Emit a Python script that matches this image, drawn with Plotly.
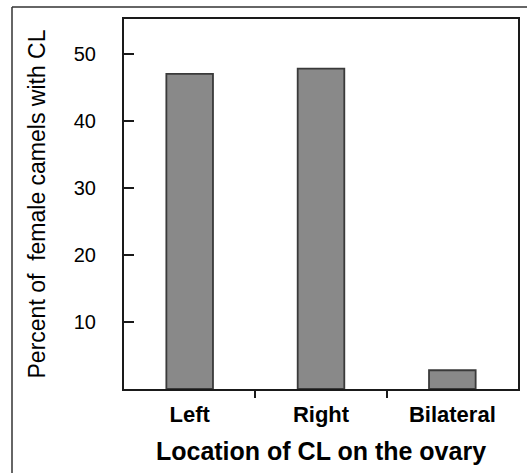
import plotly.graph_objects as go

categories = ["Left", "Right", "Bilateral"]
percent_with_cl = [47.0, 47.8, 2.8]
y_ticks = [10, 20, 30, 40, 50]

W, H = 527, 473
L, R, T, B = 124, 9, 19, 84
pw, ph = W - L - R, H - T - B

def px_x(p):
    return (p - L) / pw

def px_y(p):
    return (H - B - p) / ph

fig = go.Figure()
fig.add_trace(go.Bar(
    x=categories, y=percent_with_cl, width=0.355,
    marker=dict(color="#898989", line=dict(color="#3a3a3a", width=1.8)),
    showlegend=False, hoverinfo="skip",
))
fig.add_trace(go.Scatter(x=[0.5], y=[None], xaxis="x2", mode="markers",
                         showlegend=False, hoverinfo="skip"))

font_main = "Liberation Sans, Arial, sans-serif"

fig.update_layout(
    template="none",
    width=W, height=H,
    margin=dict(l=L, r=R, t=T, b=B, autoexpand=False),
    paper_bgcolor="white", plot_bgcolor="white",
    font=dict(family=font_main, color="black"),
    xaxis=dict(
        type="category", range=[-0.5, 2.5], automargin=False,
        showline=True, linecolor="#1a1a1a", linewidth=2, mirror=True,
        ticks="", showgrid=False, zeroline=False,
        tickfont=dict(size=22, weight="bold"),
        ticklabelstandoff=5,
        title=dict(text="Location of CL on the ovary",
                   font=dict(size=25, weight="bold"), standoff=16),
    ),
    xaxis2=dict(
        overlaying="x", anchor="y", range=[-0.5, 2.5], automargin=False,
        tickvals=[0.5, 1.5], showticklabels=False,
        ticks="outside", ticklen=8, tickwidth=2, tickcolor="#1a1a1a",
        showgrid=False, zeroline=False, showline=False, side="bottom",
    ),
    yaxis=dict(
        range=[0, 55.2], automargin=False,
        tickvals=y_ticks,
        showline=True, linecolor="#1a1a1a", linewidth=2, mirror=True,
        ticks="inside", ticklen=10, tickwidth=2, tickcolor="#1a1a1a",
        showgrid=False, zeroline=False,
        tickfont=dict(size=20),
        ticklabelstandoff=22,
        title=dict(text="Percent of  female camels with CL",
                   font=dict(size=23), standoff=22),
    ),
    shapes=[
        dict(type="line", xref="paper", yref="paper",
             x0=px_x(12), x1=px_x(W + 5), y0=px_y(7), y1=px_y(7),
             line=dict(color="#333333", width=1.5)),
        dict(type="line", xref="paper", yref="paper",
             x0=px_x(12), x1=px_x(12), y0=px_y(7), y1=px_y(H + 5),
             line=dict(color="#333333", width=1.5)),
    ],
)

fig.write_html("out.html",
               config={"displayModeBar": False},
               post_script="document.body.style.margin='0';")
